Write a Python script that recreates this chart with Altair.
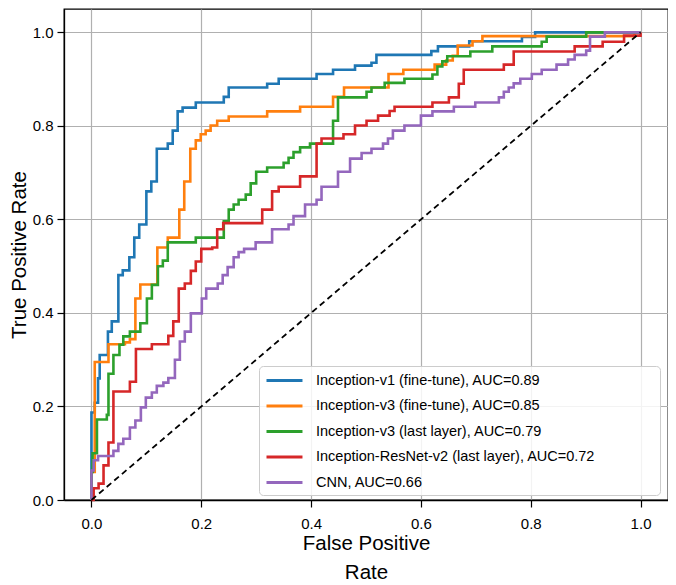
import altair as alt
import pandas as pd

labels = [
    "Inception-v1 (fine-tune), AUC=0.89",
    "Inception-v3 (fine-tune), AUC=0.85",
    "Inception-v3 (last layer), AUC=0.79",
    "Inception-ResNet-v2 (last layer), AUC=0.72",
    "CNN, AUC=0.66",
]
colors = ["#1f77b4", "#ff7f0e", "#2ca02c", "#d62728", "#9467bd"]

v1_fpr = [0, 0, 0.006, 0.012, 0.015, 0.03, 0.037, 0.049, 0.057, 0.069, 0.078, 0.087, 0.1, 0.109, 0.119,
          0.139, 0.148, 0.157, 0.166, 0.19, 0.241, 0.25, 0.32, 0.341, 0.41, 0.44, 0.48, 0.51, 0.519, 0.619,
          0.631, 0.688, 0.784, 0.808, 1.0]
v1_tpr = [0, 0.187, 0.208, 0.26, 0.31, 0.36, 0.382, 0.481, 0.491, 0.519, 0.561, 0.589, 0.66, 0.681, 0.751,
          0.762, 0.79, 0.831, 0.839, 0.85, 0.862, 0.882, 0.89, 0.901, 0.911, 0.92, 0.929, 0.935, 0.952, 0.96,
          0.97, 0.981, 0.99, 1.0, 1.0]

v3ft_fpr = [0, 0, 0.006, 0.031, 0.061, 0.07, 0.08, 0.089, 0.12, 0.139, 0.16, 0.169, 0.18, 0.19, 0.199,
            0.208, 0.217, 0.229, 0.25, 0.32, 0.38, 0.44, 0.46, 0.541, 0.568, 0.625, 0.646, 0.658, 0.667,
            0.694, 0.712, 0.989, 1.0]
v3ft_tpr = [0, 0.06, 0.295, 0.333, 0.337, 0.344, 0.431, 0.461, 0.54, 0.561, 0.621, 0.681, 0.751, 0.769,
            0.782, 0.79, 0.801, 0.811, 0.82, 0.831, 0.841, 0.862, 0.882, 0.911, 0.92, 0.931, 0.94, 0.95,
            0.972, 0.981, 0.992, 1.0, 1.0]

v3ll_fpr = [0, 0, 0.002, 0.01, 0.028, 0.031, 0.04, 0.051, 0.058, 0.07, 0.089, 0.101, 0.11, 0.121, 0.13,
            0.139, 0.19, 0.241, 0.25, 0.259, 0.268, 0.281, 0.29, 0.3, 0.32, 0.35, 0.359, 0.368, 0.38, 0.398,
            0.44, 0.449, 0.501, 0.51, 0.534, 0.57, 0.621, 0.63, 0.639, 0.648, 0.69, 0.73, 0.82, 0.829,
            0.901, 1.0]
v3ll_tpr = [0, 0.06, 0.1, 0.172, 0.182, 0.27, 0.31, 0.332, 0.35, 0.36, 0.378, 0.431, 0.46, 0.5, 0.512,
            0.551, 0.561, 0.596, 0.621, 0.632, 0.642, 0.653, 0.677, 0.702, 0.711, 0.721, 0.732, 0.744, 0.754,
            0.762, 0.811, 0.861, 0.873, 0.882, 0.892, 0.901, 0.91, 0.927, 0.938, 0.949, 0.959, 0.97, 0.98,
            0.991, 1.0, 1.0]

res_fpr = [0, 0.004, 0.013, 0.022, 0.031, 0.04, 0.07, 0.081, 0.11, 0.14, 0.149, 0.159, 0.17, 0.181, 0.19,
           0.2, 0.22, 0.229, 0.24, 0.311, 0.329, 0.341, 0.38, 0.41, 0.419, 0.459, 0.48, 0.501, 0.522, 0.543,
           0.552, 0.621, 0.651, 0.669, 0.678, 0.751, 0.769, 0.88, 0.931, 0.97, 1.0]
res_tpr = [0, 0.025, 0.035, 0.074, 0.123, 0.232, 0.253, 0.323, 0.333, 0.351, 0.382, 0.452, 0.463, 0.49,
           0.51, 0.537, 0.54, 0.579, 0.592, 0.621, 0.66, 0.67, 0.692, 0.762, 0.773, 0.782, 0.801, 0.811,
           0.822, 0.832, 0.841, 0.85, 0.861, 0.89, 0.92, 0.931, 0.959, 0.97, 0.98, 0.993, 1.0]

cnn_fpr = [0, 0, 0.004, 0.012, 0.04, 0.049, 0.058, 0.07, 0.08, 0.09, 0.099, 0.11, 0.119, 0.131, 0.14,
           0.152, 0.161, 0.17, 0.181, 0.201, 0.209, 0.23, 0.239, 0.248, 0.259, 0.268, 0.278, 0.299, 0.329,
           0.359, 0.368, 0.389, 0.41, 0.419, 0.449, 0.471, 0.492, 0.51, 0.531, 0.54, 0.549, 0.57, 0.6, 0.621,
           0.66, 0.699, 0.742, 0.751, 0.76, 0.769, 0.781, 0.802, 0.82, 0.847, 0.868, 0.88, 0.901, 0.908,
           0.935, 1.0]
cnn_tpr = [0, 0.063, 0.085, 0.094, 0.105, 0.12, 0.131, 0.155, 0.17, 0.198, 0.219, 0.23, 0.244, 0.251,
           0.261, 0.3, 0.339, 0.36, 0.399, 0.431, 0.452, 0.463, 0.481, 0.498, 0.519, 0.53, 0.537, 0.551,
           0.579, 0.589, 0.607, 0.632, 0.642, 0.67, 0.702, 0.73, 0.742, 0.751, 0.762, 0.773, 0.79, 0.801,
           0.822, 0.831, 0.841, 0.85, 0.861, 0.873, 0.882, 0.891, 0.901, 0.911, 0.92, 0.931, 0.942, 0.952,
           0.961, 0.991, 1.0, 1.0]

chance_fpr = [0, 1]
chance_tpr = [0, 1]
tick_values = [0.0, 0.2, 0.4, 0.6, 0.8, 1.0]

FONT = "Liberation Sans"

rows = []
for lab, xs, ys in zip(labels,
                       [v1_fpr, v3ft_fpr, v3ll_fpr, res_fpr, cnn_fpr],
                       [v1_tpr, v3ft_tpr, v3ll_tpr, res_tpr, cnn_tpr]):
    for i, (x, y) in enumerate(zip(xs, ys)):
        rows.append({"model": lab, "fpr": x, "tpr": y, "i": i})
df = pd.DataFrame(rows)
diag_df = pd.DataFrame({"fpr": chance_fpr, "tpr": chance_tpr})

xscale = alt.Scale(domain=[-0.05, 1.05], nice=False, zero=False)
yscale = alt.Scale(domain=[0, 1.05], nice=False, zero=False)

# trailing em-spaces (kept from trimming by a zero-width space) widen the legend frame
label_pad = "\u2003\u2003\u2003\u2003\u200b"

curves = alt.Chart(df).mark_line(interpolate="step-after", strokeWidth=2.6).encode(
    x=alt.X("fpr:Q", scale=xscale,
            axis=alt.Axis(values=tick_values, format=".1f", title=["False Positive", "Rate"],
                          labelPadding=9, titlePadding=2, titleLineHeight=29)),
    y=alt.Y("tpr:Q", scale=yscale,
            axis=alt.Axis(values=tick_values, format=".1f", title="True Positive Rate",
                          labelPadding=4, titlePadding=3)),
    color=alt.Color("model:N", scale=alt.Scale(domain=labels, range=colors),
                    legend=alt.Legend(title=None, orient="none", legendX=195, legendY=357,
                                      symbolType="M-1,0L4.14,0", symbolSize=196, symbolStrokeWidth=3,
                                      labelFontSize=14.5, labelFont=FONT, labelColor="black",
                                      labelOffset=34, labelLimit=700, rowPadding=10.5, padding=6,
                                      labelExpr="datum.label + '" + label_pad + "'",
                                      fillColor="rgba(255,255,255,0.85)", strokeColor="#cccccc",
                                      cornerRadius=4)),
    order=alt.Order("i:Q"),
)

diag = alt.Chart(diag_df).mark_line(color="black", strokeDash=[6, 4], strokeWidth=1.8).encode(
    x=alt.X("fpr:Q", scale=xscale),
    y=alt.Y("tpr:Q", scale=yscale),
)

chart = alt.layer(curves, diag).properties(
    width=604, height=491,
    autosize=alt.AutoSizeParams(type="none"),
    padding={"left": 56, "top": 1, "right": 0, "bottom": 82},
).configure_view(
    stroke="black", strokeWidth=1.3
).configure_axis(
    labelFont=FONT, titleFont=FONT, labelFontSize=15, titleFontSize=20.5,
    titleFontWeight="normal", labelColor="black", titleColor="black",
    grid=True, gridColor="#b0b0b0", gridWidth=1.2,
    domainColor="black", domainWidth=1.3, tickColor="black", tickSize=7, tickWidth=1.2,
)

chart.save("out.html", embed_options={"renderer": "svg", "actions": False})
